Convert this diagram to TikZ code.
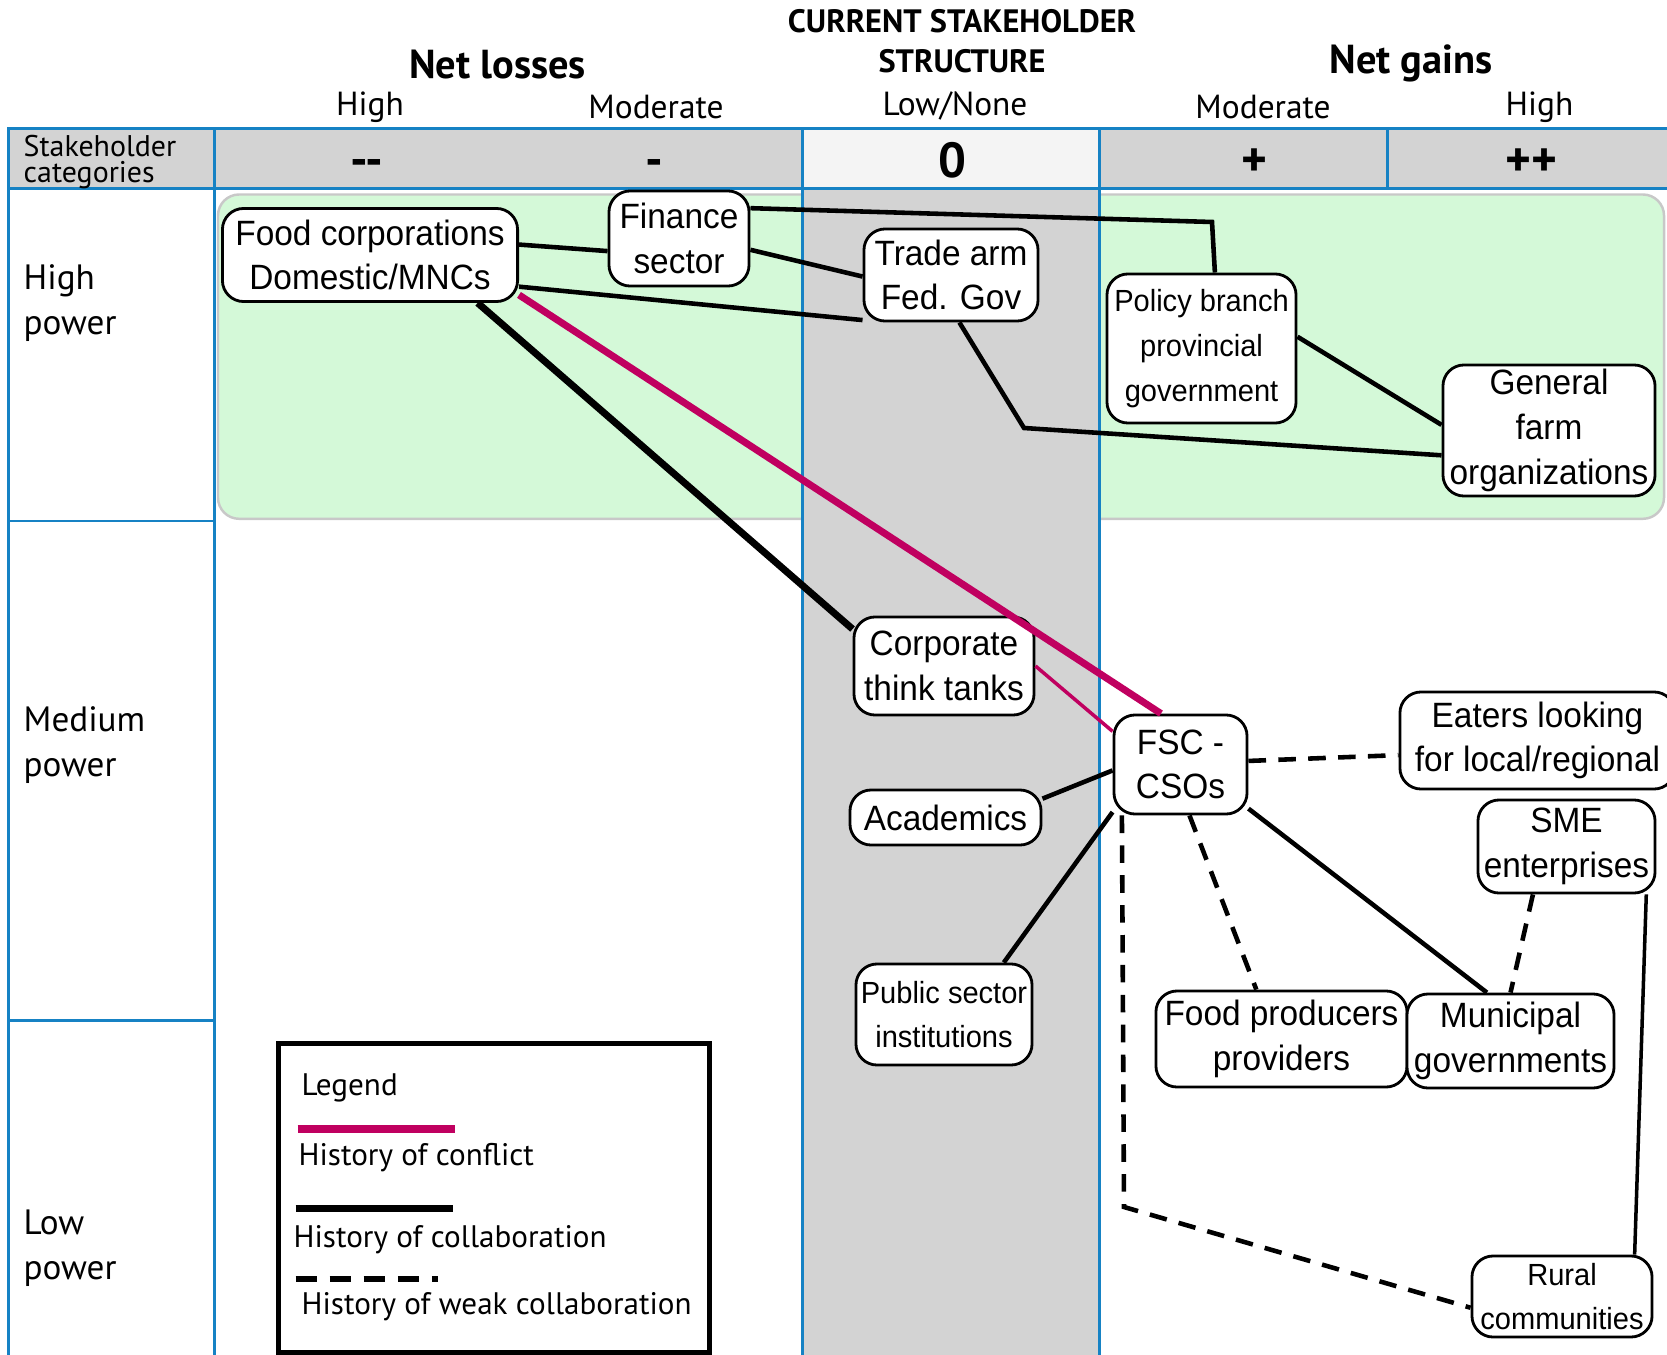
\documentclass[tikz,border=0pt]{standalone}
\usepackage{fontspec}
\setmainfont{PT Sans}
\newfontfamily\nodefont[FakeStretch=0.95]{Liberation Sans}
\usepackage{tikz}
\usetikzlibrary{positioning}

\definecolor{gridblue}{RGB}{22,130,196}
\definecolor{neutral}{RGB}{211,211,211}
\definecolor{headlight}{RGB}{244,244,244}
\definecolor{powerzone}{RGB}{212,249,216}
\definecolor{zoneedge}{RGB}{200,200,200}
\definecolor{conflict}{RGB}{192,0,96}

\begin{document}
\begin{tikzpicture}
[x=0.01cm, y=-0.01cm,
actor/.style={draw, rounded corners=6pt, fill=white, line width=0.8pt, align=center, inner sep=1pt,
  font=\nodefont\fontsize{10}{12.7}\selectfont},
actorsmall/.style={actor, font=\nodefont\fontsize{8.7}{12.7}\selectfont},
grid/.style={draw=gridblue, line width=0.75pt},
title/.style={font=\bfseries\fontsize{11.5}{13}\selectfont},
subtitle/.style={font=\fontsize{9.5}{11}\selectfont},
sign/.style={anchor=base, font=\bfseries\fontsize{14}{16}\selectfont},
rowlabel/.style={anchor=west, align=left, inner sep=0pt, font=\fontsize{10}{12.7}\selectfont},
legendtext/.style={anchor=west, inner sep=0pt, font=\fontsize{8.85}{11}\selectfont},
link/.style={line width=1.3pt},
linkthin/.style={line width=1pt},
strong/.style={line width=2pt},
clash/.style={draw=conflict, line width=2pt},
clashthin/.style={draw=conflict, line width=1pt},
weak/.style={line width=1.3pt, dash pattern=on 5pt off 3.5pt}]

\useasboundingbox (0,0) rectangle (1667,1355);

% backgrounds
\fill[neutral] (8.5,128.6) rectangle (802.6,188.2);
\fill[headlight] (802.6,128.6) rectangle (1099.2,188.2);
\fill[neutral] (1099.2,128.6) rectangle (1667,188.2);
\filldraw[fill=powerzone, draw=zoneedge, line width=0.7pt, rounded corners=6pt] (218,194.5) rectangle (1664,518.8);
\fill[neutral] (802.6,188.2) rectangle (1099.2,1355);

% grid
\draw[grid] (1667,128.6) -- (8.5,128.6) -- (8.5,1355);
\draw[grid] (8.5,188.2) -- (1667,188.2);
\draw[grid] (8.5,520.9) -- (214.7,520.9);
\draw[grid] (8.5,1020.6) -- (214.7,1020.6);
\foreach \x in {214.7, 802.6, 1099.2}
  \draw[grid] (\x,128.6) -- (\x,1355);
\draw[grid] (1387.3,128.6) -- (1387.3,188.2);

% headings
\node[font=\bfseries\fontsize{9.2}{11}\selectfont] (current) at (962,21) {CURRENT STAKEHOLDER};
\node[font=\bfseries\fontsize{9.2}{11}\selectfont] (structure) at (962,61) {STRUCTURE};
\node[title] (losses) at (497.5,65) {Net losses};
\node[title] (gains) at (1411,63.8) {Net gains};
\node[subtitle] (lhigh) at (370,107.2) {High};
\node[subtitle] (lmod) at (656,107) {Moderate};
\node[subtitle] (none) at (955,106.1) {Low/None};
\node[subtitle] (gmod) at (1263,107) {Moderate};
\node[subtitle] (ghigh) at (1539.5,107.2) {High};
\node[sign] (s1) at (367,177) {-{}-};
\node[sign] (s2) at (654,177) {-};
\node[sign] (s3) at (952.5,177.5) {0};
\node[sign] (s4) at (1254.5,177) {+};
\node[sign] (s5) at (1531,177) {++};
\node[rowlabel, font=\fontsize{8.5}{7.3}\selectfont] (cats) at (23,162) {Stakeholder\\categories};
\node[rowlabel] (hpow) at (23,303.2) {High\\power};
\node[rowlabel] (mpow) at (23,745.2) {Medium\\power};
\node[rowlabel] (lpow) at (23,1248.2) {Low\\power};

% stakeholders
\node[actor, minimum width=2.95cm, minimum height=0.93cm] (food) at (370,255) {Food corporations\\Domestic/MNCs};
\node[actor, minimum width=1.40cm, minimum height=0.95cm] (finance) at (679,238.5) {Finance\\sector};
\node[actor, minimum width=1.74cm, minimum height=0.92cm] (trade) at (951,275) {Trade arm\\Fed. Gov};
\node[actorsmall, minimum width=1.89cm, minimum height=1.49cm] (policy) at (1201.5,348.5) {Policy branch\\provincial\\government};
\node[actor, minimum width=2.12cm, minimum height=1.31cm] (farm) at (1549,430.5) {General\\farm\\organizations};
\node[actor, minimum width=1.80cm, minimum height=0.98cm] (thinktank) at (944,666) {Corporate\\think tanks};
\node[actor, minimum width=1.33cm, minimum height=0.99cm] (fsc) at (1180.5,764.5) {FSC -\\CSOs};
\node[actor, minimum width=2.75cm, minimum height=0.97cm] (eaters) at (1537.5,740.5) {Eaters looking\\for local/regional};
\node[actor, minimum width=1.91cm, minimum height=0.55cm] (academics) at (945.5,817.5) {Academics};
\node[actor, minimum width=1.77cm, minimum height=0.93cm] (sme) at (1566.5,846.5) {SME\\enterprises};
\node[actorsmall, minimum width=1.76cm, minimum height=1.01cm] (public) at (944,1014.5) {Public sector\\institutions};
\node[actor, minimum width=2.51cm, minimum height=0.96cm] (producers) at (1281.5,1039) {Food producers\\providers};
\node[actor, minimum width=2.07cm, minimum height=0.94cm] (municipal) at (1510.5,1041) {Municipal\\governments};
\node[actorsmall, minimum width=1.80cm, minimum height=0.81cm] (rural) at (1562,1296.5) {Rural\\communities};

\coordinate (bendA) at (1212,222);
\coordinate (bendB) at (1024,428);
\coordinate (bendC) at (1124,1207);

% relations
\draw[link] (food.4) -- (finance.190);
\draw[link] (food.348) -- (trade.207);
\draw[link] (finance.351) -- (trade.181);
\draw[link] (finance.23) -- (bendA) -- (policy.80);
\draw[link] (trade.280) -- (bendB) -- (farm.193);
\draw[link] (policy.7) -- (farm.177);
\draw[strong] (food.336) -- (thinktank.158);
\draw[clash] (food.345) -- (fsc.111);
\draw[clashthin] (thinktank.east) -- (fsc.154);
\draw[link] (academics.11) -- (fsc.185);
\draw[link] (public.41) -- (fsc.215);
\draw[weak] (fsc.3) -- (eaters.186);
\draw[weak] (fsc.280) -- (producers.117);
\draw[link] (fsc.327) -- (municipal.116);
\draw[weak] (sme.235) -- (municipal.north);
\draw[linkthin] (sme.329) -- (rural.30);
\draw[weak] (fsc.221) -- (bendC) -- (rural.187);

% legend
\node[draw, line width=1.4pt, minimum width=4.30cm, minimum height=3.08cm, inner sep=0pt] (legendbox) at (494,1198) {};
\node[legendtext] (legtitle) at (301,1087.7) {Legend};
\draw[clash] (297.7,1129) -- (455,1129);
\node[legendtext] (legclash) at (298,1157.8) {History of conflict};
\draw[strong] (295.5,1208.8) -- (452.9,1208.8);
\node[legendtext] (legcollab) at (293,1239.6) {History of collaboration};
\draw[line width=1.6pt, dash pattern=on 6pt off 3.7pt] (295.5,1279) -- (438,1279);
\node[legendtext] (legweak) at (301,1306.6) {History of weak collaboration};
\end{tikzpicture}
\end{document}
